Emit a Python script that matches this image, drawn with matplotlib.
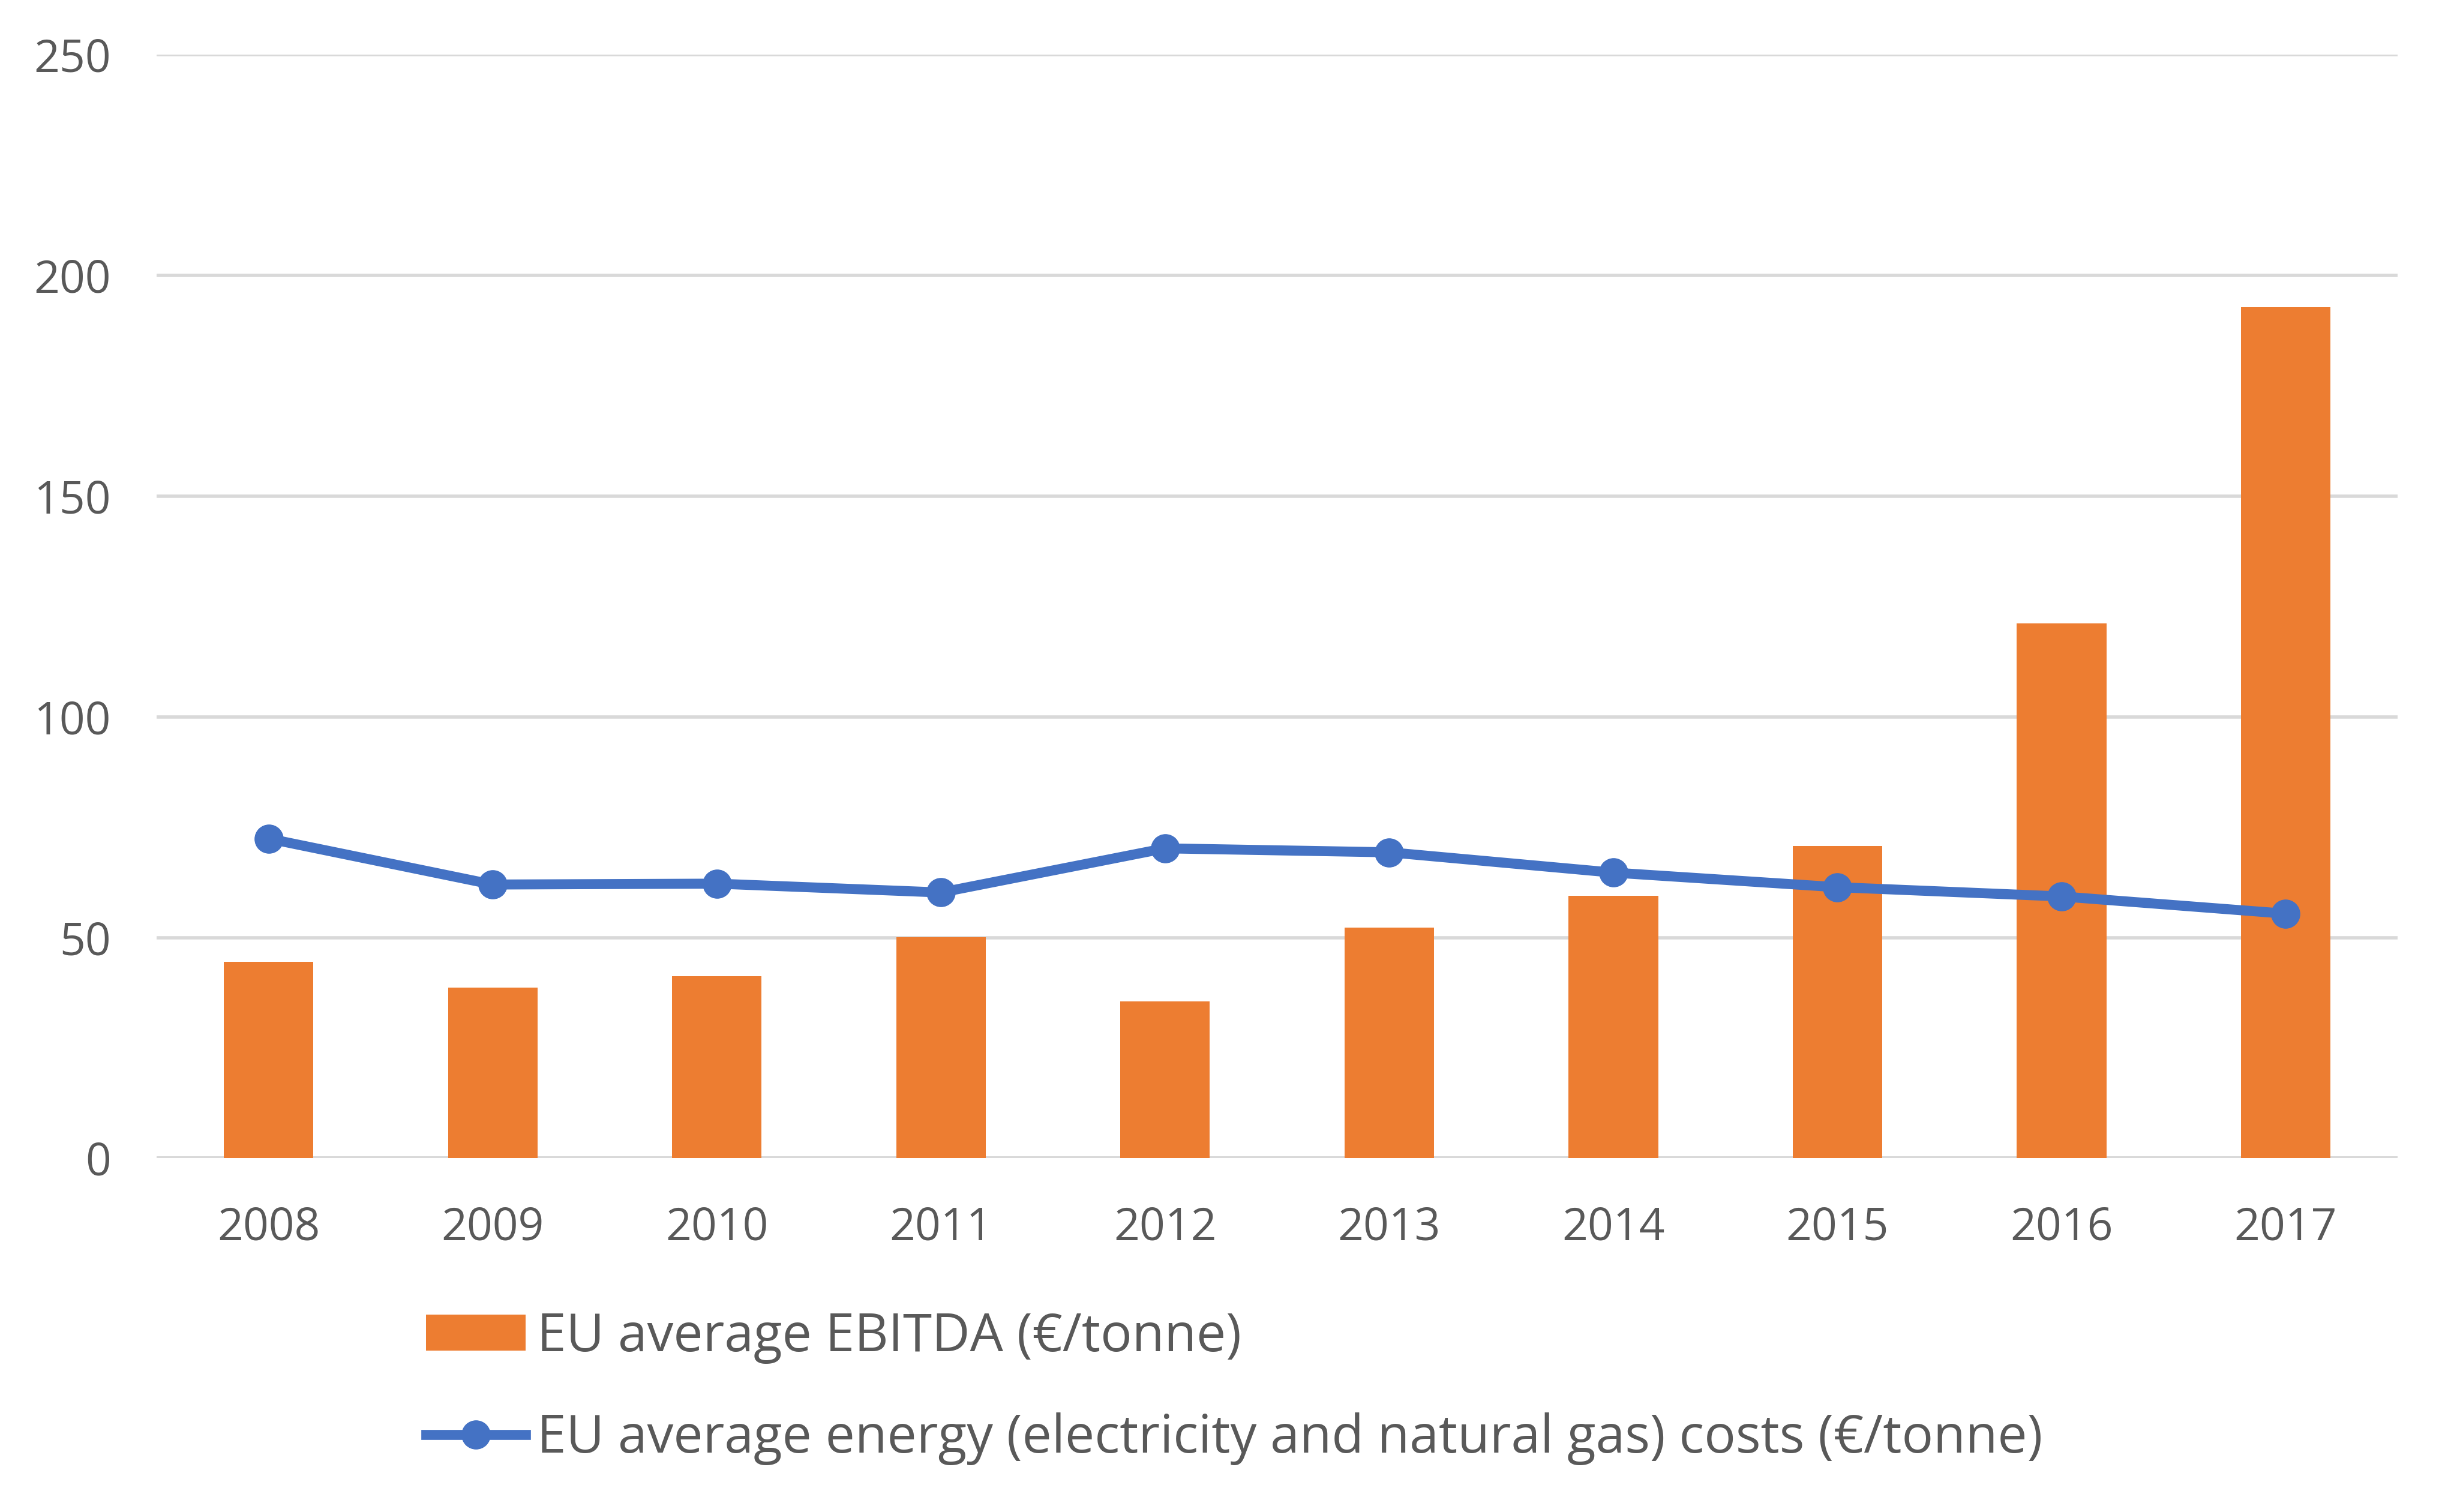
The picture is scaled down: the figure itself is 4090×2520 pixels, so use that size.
import numpy as np
import matplotlib.pyplot as plt
from matplotlib.patches import Patch
from matplotlib.lines import Line2D

years = ["2008", "2009", "2010", "2011", "2012", "2013", "2014", "2015", "2016", "2017"]
ebitda = [44.5, 38.6, 41.2, 50.1, 35.5, 52.3, 59.4, 70.7, 121.2, 192.8]
energy_costs = [72.4, 62.0, 62.2, 60.2, 70.2, 69.3, 64.7, 61.4, 59.3, 55.4]
y_ticks = [0, 50, 100, 150, 200, 250]

label_bar = "EU average EBITDA (€/tonne)"
label_line = "EU average energy (electricity and natural gas) costs (€/tonne)"

orange = "#ED7D31"
blue = "#4472C4"
grey_text = "#595959"
grid_col = "#D9D9D9"

plt.rcParams['font.family'] = ['Open Sans', 'DejaVu Sans']

fig = plt.figure(figsize=(40.91, 25.2), dpi=100)
ax = fig.add_axes([0.0638, 0.234, 0.913, 0.7298])

x = np.arange(len(years))
ax.bar(x, ebitda, width=0.4, color=orange, zorder=2)
ax.plot(x, energy_costs, color=blue, linewidth=12, marker='o', markersize=34, zorder=3)

ax.set_xlim(-0.5, len(years) - 0.5)
ax.set_ylim(0, 250)
ax.set_yticks(y_ticks)
ax.set_xticks(x)
ax.set_xticklabels(years)
ax.yaxis.grid(True, color=grid_col, linewidth=4, zorder=0)
ax.set_axisbelow(True)
for side in ['top', 'right', 'left', 'bottom']:
    ax.spines[side].set_visible(False)
ax.axhline(0, color=grid_col, linewidth=4, zorder=1)
ax.tick_params(axis='both', length=0, labelsize=54, labelcolor=grey_text)
ax.tick_params(axis='y', pad=55)
ax.tick_params(axis='x', pad=57)

handles = [
    Patch(facecolor=orange, edgecolor='none'),
    Line2D([0], [0], color=blue, linewidth=12, marker='o', markersize=34),
]
fig.legend(handles, [label_bar, label_line], loc='upper left',
           bbox_to_anchor=(0.1735, 0.133), frameon=False, fontsize=63,
           labelcolor=grey_text, handlelength=1.9, handleheight=0.67,
           handletextpad=0.22, labelspacing=0.93, borderpad=0, borderaxespad=0)

fig.savefig("out.png", dpi=100)
